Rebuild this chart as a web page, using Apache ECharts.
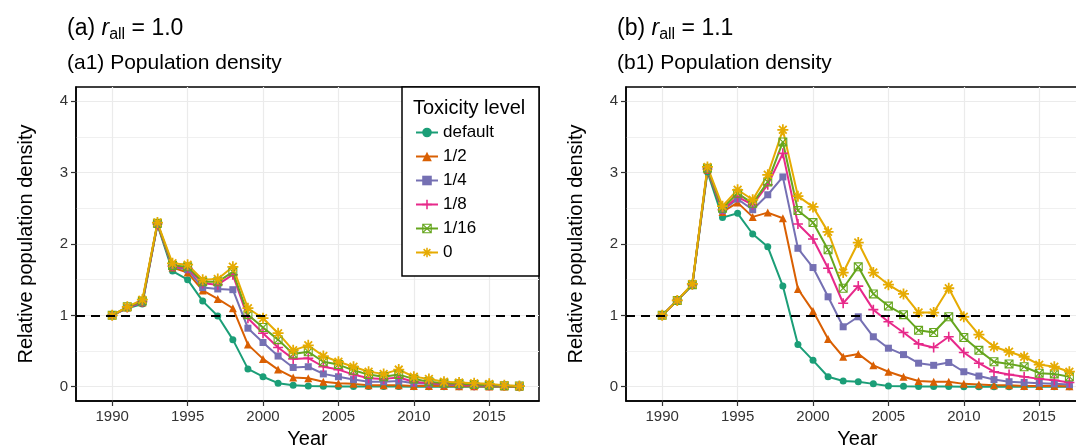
<!DOCTYPE html>
<html><head><meta charset="utf-8">
<script src="https://cdn.jsdelivr.net/npm/echarts@6/dist/echarts.min.js"></script>
<style>html,body{margin:0;padding:0;background:#fff}#c{width:1076px;height:448px}</style>
</head><body><div id="c"></div>
<script>
// ---------- data ----------
const years = [1990,1991,1992,1993,1994,1995,1996,1997,1998,1999,2000,2001,2002,2003,2004,2005,2006,2007,2008,2009,2010,2011,2012,2013,2014,2015,2016,2017];
const levels = ['default','1/2','1/4','1/8','1/16','0'];
const xTicks = [1990,1995,2000,2005,2010,2015];
const yTicks = [0,1,2,3,4];
const yMinor = [0.5,1.5,2.5,3.5];
const refLevel = 1;

// panel (a) r_all = 1.0
const a_default   = [1.00,1.10,1.16,2.27,1.62,1.50,1.20,0.99,0.66,0.25,0.14,0.05,0.02,0.01,0.005,0.004,0.003,0.002,0.002,0.002,0.001,0.001,0.001,0.001,0.001,0.001,0.001,0.001];
const a_half      = [1.00,1.11,1.18,2.28,1.67,1.60,1.35,1.23,1.10,0.59,0.39,0.24,0.13,0.12,0.07,0.05,0.04,0.02,0.02,0.02,0.01,0.01,0.01,0.005,0.005,0.003,0.002,0.001];
const a_quarter   = [1.00,1.11,1.18,2.28,1.68,1.64,1.39,1.37,1.36,0.82,0.62,0.43,0.27,0.28,0.18,0.14,0.10,0.07,0.07,0.08,0.05,0.04,0.03,0.02,0.02,0.01,0.01,0.01];
const a_eighth    = [1.00,1.11,1.19,2.28,1.69,1.66,1.45,1.43,1.57,0.96,0.75,0.55,0.39,0.40,0.28,0.24,0.17,0.12,0.11,0.13,0.07,0.05,0.04,0.03,0.02,0.02,0.01,0.01];
const a_sixteenth = [1.00,1.12,1.20,2.29,1.70,1.68,1.47,1.47,1.61,1.01,0.83,0.66,0.46,0.49,0.35,0.31,0.23,0.17,0.14,0.17,0.11,0.07,0.05,0.04,0.03,0.02,0.015,0.01];
const a_zero      = [1.00,1.12,1.22,2.30,1.73,1.71,1.50,1.51,1.68,1.10,0.96,0.75,0.51,0.58,0.43,0.35,0.28,0.21,0.18,0.24,0.14,0.11,0.07,0.06,0.05,0.04,0.02,0.01];

// panel (b) r_all = 1.1
const b_default   = [1.00,1.21,1.42,3.01,2.37,2.43,2.14,1.96,1.41,0.59,0.37,0.14,0.08,0.07,0.04,0.01,0.005,0.003,0.002,0.002,0.001,0.001,0.001,0.001,0.001,0.001,0.001,0.001];
const b_half      = [1.00,1.21,1.43,3.04,2.45,2.58,2.38,2.44,2.36,1.37,1.06,0.67,0.42,0.46,0.30,0.21,0.14,0.08,0.07,0.07,0.04,0.03,0.02,0.02,0.01,0.01,0.01,0.005];
const b_quarter   = [1.00,1.21,1.43,3.05,2.47,2.63,2.48,2.69,2.94,1.94,1.67,1.26,0.84,0.98,0.70,0.54,0.45,0.33,0.30,0.34,0.21,0.15,0.10,0.07,0.06,0.05,0.04,0.03];
const b_eighth    = [1.00,1.21,1.43,3.05,2.48,2.66,2.55,2.83,3.27,2.28,2.07,1.66,1.17,1.41,1.08,0.91,0.76,0.60,0.55,0.70,0.48,0.33,0.21,0.17,0.14,0.11,0.09,0.06];
const b_sixteenth = [1.00,1.21,1.43,3.06,2.50,2.71,2.57,2.87,3.43,2.47,2.30,1.92,1.38,1.68,1.30,1.13,1.01,0.79,0.76,0.98,0.69,0.51,0.35,0.32,0.28,0.19,0.18,0.14];
const b_zero      = [1.00,1.21,1.44,3.08,2.53,2.76,2.62,2.97,3.60,2.67,2.52,2.17,1.60,2.02,1.60,1.43,1.30,1.04,1.04,1.38,0.98,0.73,0.56,0.49,0.42,0.31,0.28,0.21];

const panelA = [a_default,a_half,a_quarter,a_eighth,a_sixteenth,a_zero];
const panelB = [b_default,b_half,b_quarter,b_eighth,b_sixteenth,b_zero];

// ---------- style ----------
const FF = '"Liberation Sans", Arial, Helvetica, sans-serif';
const colors = ['#1B9E77','#D95F02','#7570B3','#E7298A','#66A61E','#E6AB02'];
const plusPath = 'path://M-0.8,-5H0.8V-0.8H5V0.8H0.8V5H-0.8V0.8H-5V-0.8H-0.8Z';
const sqCrossPath = 'path://M-5,-5H5V5H-5Z M-3.8,-3.8V3.8H3.8V-3.8Z M-4.25,-3.35L-3.35,-4.25L4.25,3.35L3.35,4.25Z M3.35,-4.25L4.25,-3.35L-3.35,4.25L-4.25,3.35Z';
const asteriskPath = 'path://M-0.8,-5H0.8V-0.8H5V0.8H0.8V5H-0.8V0.8H-5V-0.8H-0.8Z M-4.07,-2.93L-2.93,-4.07L4.07,2.93L2.93,4.07Z M2.93,-4.07L4.07,-2.93L-2.93,4.07L-4.07,2.93Z';
const symbols = ['circle','triangle','rect',plusPath,sqCrossPath,asteriskPath];
const symbolSizes = [7,8,7,10,9,11];

const grids = [
  {left:76, top:87, width:463, height:314},
  {left:626, top:87, width:463, height:314}
].map(g => Object.assign(g, {show:true, borderColor:'#000', borderWidth:1.5, backgroundColor:'transparent', outerBoundsMode:'none', containLabel:false}));

function xAxisFor(i){
  return {
    type:'value', gridIndex:i, min:1987.6, max:2018.3,
    name:'Year', nameLocation:'middle', nameGap:28,
    nameTextStyle:{fontSize:20, color:'#000', fontFamily:FF},
    axisLine:{show:true, onZero:false, lineStyle:{color:'#000', width:1.5}},
    axisTick:{show:true, customValues:xTicks, length:5, lineStyle:{color:'#333', width:1.2}},
    axisLabel:{customValues:xTicks, fontSize:15, color:'#333', margin:8, fontFamily:FF, formatter:v => String(v)},
    splitLine:{show:true, lineStyle:{color:'#ebebeb', width:1.2}}
  };
}
function yAxesFor(i){
  return [{
    type:'value', gridIndex:i, min:-0.2, max:4.2, position:'left',
    name:'Relative population density', nameLocation:'middle', nameGap:40, nameRotate:90,
    nameTextStyle:{fontSize:20, color:'#000', fontFamily:FF},
    axisLine:{show:true, onZero:false, lineStyle:{color:'#000', width:1.5}},
    axisTick:{show:true, customValues:yTicks, length:5, lineStyle:{color:'#333', width:1.2}},
    axisLabel:{customValues:yTicks, fontSize:15, color:'#333', margin:8, fontFamily:FF, formatter:v => String(v)},
    splitLine:{show:true, lineStyle:{color:'#ebebeb', width:1.2}}
  },{
    type:'value', gridIndex:i, min:-0.2, max:4.2, position:'left',
    axisLine:{show:false}, axisTick:{show:false, customValues:yMinor},
    axisLabel:{show:false, customValues:yMinor},
    splitLine:{show:true, lineStyle:{color:'#f0f0f0', width:1}}
  }];
}

const series = [];
[panelA, panelB].forEach((panel, p) => {
  panel.forEach((vals, k) => {
    const s = {
      type:'line', name:levels[k], xAxisIndex:p, yAxisIndex:p*2,
      data: years.map((y, j) => [y, vals[j]]),
      symbol: symbols[k], symbolSize: symbolSizes[k], showSymbol:true,
      lineStyle:{width:2, color:colors[k]}, itemStyle:{color:colors[k]},
      animation:false, z:3
    };
    if (k === 0) {
      s.markLine = {silent:true, symbol:'none', label:{show:false},
        lineStyle:{type:[9,6], color:'#000', width:2}, data:[{yAxis:refLevel}], animation:false};
    }
    series.push(s);
  });
});

function title(x, tag, val){
  return {type:'text', x:x, y:20, z:10, style:{
    text:'{n|(' + tag + ') }{r|r}{s|all}{n| = ' + val + '}',
    rich:{
      n:{fontSize:23, fontFamily:FF, fill:'#000', color:'#000', lineHeight:23, verticalAlign:'bottom', padding:[0,0,3,0]},
      r:{fontSize:23, fontFamily:FF, fontStyle:'italic', fill:'#000', color:'#000', lineHeight:23, verticalAlign:'bottom', padding:[0,0,3,0]},
      s:{fontSize:16, fontFamily:FF, fill:'#000', color:'#000', lineHeight:16, verticalAlign:'bottom'}
    }
  }};
}
function subtitle(x, text){
  return {type:'text', x:x, y:63, z:10, style:{text:text, fontSize:21, fontFamily:FF, fill:'#000', verticalAlign:'middle'}};
}

const option = {
  backgroundColor:'#fff',
  animation:false,
  grid: grids,
  xAxis:[xAxisFor(0), xAxisFor(1)],
  yAxis:[...yAxesFor(0), ...yAxesFor(1)],
  legend:{
    data:levels, orient:'vertical', left:410, top:119, itemWidth:22, itemHeight:12, itemGap:7,
    textStyle:{fontSize:17, color:'#000', fontFamily:FF}, selectedMode:false, z:20
  },
  graphic:[
    {type:'rect', z:8, shape:{x:402, y:87, width:137, height:189}, style:{fill:'#fff', stroke:'#000', lineWidth:1.5}},
    {type:'text', z:21, x:413, y:108, style:{text:'Toxicity level', fontSize:20, fontFamily:FF, fill:'#000', verticalAlign:'middle'}},
    title(67, 'a', '1.0'), subtitle(67, '(a1) Population density'),
    title(617, 'b', '1.1'), subtitle(617, '(b1) Population density')
  ],
  series: series
};
const chart = echarts.init(document.getElementById('c'), null, {renderer:'canvas'});
chart.setOption(option);
</script>
</body></html>
